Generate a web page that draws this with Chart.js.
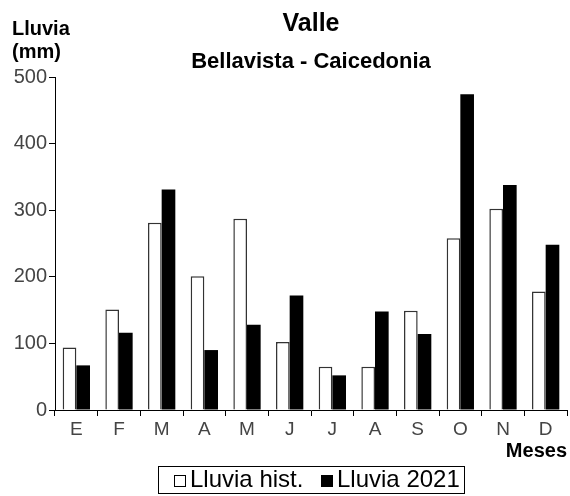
<!DOCTYPE html>
<html>
<head>
<meta charset="utf-8">
<script src="https://cdn.jsdelivr.net/npm/chart.js@4/dist/chart.umd.min.js"></script>
<style>
html,body{margin:0;padding:0;background:#fff;}
#wrap{width:570px;height:496px;position:relative;}
</style>
</head>
<body>
<div id="wrap"><canvas id="c" width="570" height="496"></canvas></div>
<script>
const categories = ['E','F','M','A','M','J','J','A','S','O','N','D'];
const lluviaHist = [94,151,281,201,287,102,65,65,149,258,302,178];
const lluvia2021 = [67,116,331,90,128,172,52,148,114,474,338,248];
const yTicks = [0,100,200,300,400,500];
const seriesLabels = ['Lluvia hist.','Lluvia 2021'];
const titleText = 'Valle';
const subtitleText = 'Bellavista - Caicedonia';
const yAxisTitle = ['Lluvia','(mm)'];
const xAxisTitle = 'Meses';

const FONT = '"Liberation Sans", Arial, sans-serif';

const textPlugin = {
  id: 'textPlugin',
  afterDraw(chart) {
    const ctx = chart.ctx;
    const ca = chart.chartArea;
    const cx = (ca.left + ca.right) / 2;
    ctx.save();
    ctx.fillStyle = '#000';
    ctx.textBaseline = 'alphabetic';
    // titles
    ctx.textAlign = 'center';
    ctx.font = 'bold 25px ' + FONT;
    ctx.fillText(titleText, cx, 31);
    ctx.font = 'bold 22px ' + FONT;
    ctx.fillText(subtitleText, cx, 68);
    // y axis title
    ctx.textAlign = 'left';
    ctx.font = 'bold 20px ' + FONT;
    ctx.fillText(yAxisTitle[0], 12, 35);
    ctx.fillText(yAxisTitle[1], 12, 58);
    // x axis title
    ctx.textAlign = 'right';
    ctx.font = 'bold 20px ' + FONT;
    ctx.fillText(xAxisTitle, ca.right, 457);
    // legend
    ctx.font = '24px ' + FONT;
    const sq = 12, gapSq = 4, gapItem = 18, padL = 15, padR = 5;
    const ds = chart.data.datasets;
    const widths = ds.map(d => ctx.measureText(d.label).width);
    let total = padL + padR;
    widths.forEach((w, i) => { total += sq + gapSq + w + (i < widths.length - 1 ? gapItem : 0); });
    const bx = Math.round(cx - total / 2) + 0.5;
    const by = 466.5, bh = 27;
    ctx.lineWidth = 1;
    ctx.strokeStyle = '#000';
    ctx.strokeRect(bx, by, Math.round(total), bh);
    let x = Math.round(bx + padL);
    ctx.textAlign = 'left';
    ds.forEach((d, i) => {
      ctx.fillStyle = d.backgroundColor;
      ctx.fillRect(x, 475, sq, sq);
      ctx.strokeStyle = '#000';
      ctx.strokeRect(x + 0.5, 475.5, sq - 1, sq - 1);
      ctx.fillStyle = '#000';
      ctx.fillText(d.label, x + sq + gapSq, 487);
      x = Math.round(x + sq + gapSq + widths[i] + gapItem);
    });
    ctx.restore();
  }
};

new Chart(document.getElementById('c'), {
  type: 'bar',
  data: {
    labels: categories,
    datasets: [
      {
        label: seriesLabels[0],
        data: lluviaHist,
        backgroundColor: '#ffffff',
        borderColor: '#333333',
        borderWidth: 1.5,
        borderSkipped: 'bottom'
      },
      {
        label: seriesLabels[1],
        data: lluvia2021,
        backgroundColor: '#000000',
        borderColor: '#000000',
        borderWidth: 0
      }
    ]
  },
  options: {
    responsive: false,
    animation: false,
    devicePixelRatio: 1,
    layout: { padding: { top: 77, right: 3, bottom: 0, left: 0 } },
    plugins: {
      legend: { display: false },
      title: { display: false },
      tooltip: { enabled: false }
    },
    datasets: {
      bar: { categoryPercentage: 0.64, barPercentage: 1.0 }
    },
    scales: {
      x: {
        afterFit(scale) { scale.height = 86; },
        grid: { display: true, drawOnChartArea: false, color: '#000', tickLength: 6, offset: true },
        border: { display: true, color: '#000', width: 1 },
        ticks: { color: '#444', font: { family: FONT, size: 19 }, padding: 2, maxRotation: 0, autoSkip: false }
      },
      y: {
        min: 0,
        max: 500,
        afterFit(scale) { scale.width = 55; },
        afterBuildTicks(scale) { scale.ticks = yTicks.map(v => ({ value: v })); },
        grid: { display: true, drawOnChartArea: false, color: '#000', tickLength: 6 },
        border: { display: true, color: '#000', width: 1 },
        ticks: { color: '#444', font: { family: FONT, size: 20 }, padding: 2 }
      }
    }
  },
  plugins: [textPlugin]
});
</script>
</body>
</html>
